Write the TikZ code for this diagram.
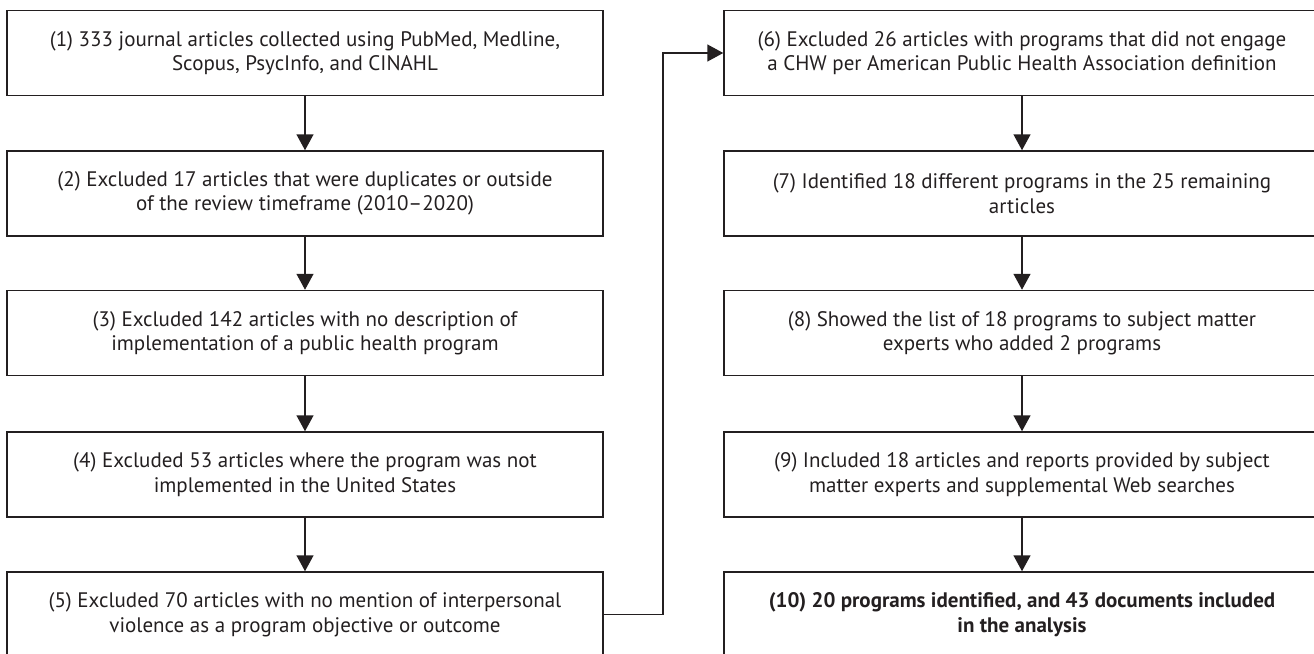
\documentclass[tikz,border=0pt]{standalone}
\usepackage{fontspec}
\setmainfont{PT Sans}
\usetikzlibrary{arrows.meta}
\definecolor{ink}{HTML}{231F20}
\tikzset{
  flowbox/.style={draw=ink, line width=1.5pt, minimum width=596pt, minimum height=85pt,
    inner sep=0pt, align=center, font=\fontsize{21}{24.5}\selectfont, text=ink},
  flowarrow/.style={draw=ink, line width=1.5pt, -{Triangle[length=16pt,width=17pt]}},
}
\begin{document}
\begin{tikzpicture}[x=1pt,y=-1pt]
\useasboundingbox (0,0) rectangle (1314,653);
\node[flowbox] (b1) at (305,53) {(1) 333 journal articles collected using PubMed, Medline,\\Scopus, PsycInfo, and CINAHL};
\node[flowbox] (b2) at (305,193.5) {(2) Excluded 17 articles that were duplicates or outside\\of the review timeframe (2010--2020)};
\node[flowbox] (b3) at (305,333) {(3) Excluded 142 articles with no description of\\implementation of a public health program};
\node[flowbox] (b4) at (305,474.5) {(4) Excluded 53 articles where the program was not\\implemented in the United States};
\node[flowbox] (b5) at (305,614.5) {(5) Excluded 70 articles with no mention of interpersonal\\violence as a program objective or outcome};
\node[flowbox] (b6) at (1022,53) {(6) Excluded 26 articles with programs that did not engage\\a CHW per American Public Health Association definition};
\node[flowbox] (b7) at (1022,193.5) {(7) Identified 18 different programs in the 25 remaining\\articles};
\node[flowbox] (b8) at (1022,333) {(8) Showed the list of 18 programs to subject matter\\experts who added 2 programs};
\node[flowbox] (b9) at (1022,474.5) {(9) Included 18 articles and reports provided by subject\\matter experts and supplemental Web searches};
\node[flowbox, font=\fontsize{21}{24.5}\selectfont\bfseries] (b10) at (1022,614.5) {(10) 20 programs identified, and 43 documents included\\in the analysis};
\draw[flowarrow] (b1) -- (b2);
\draw[flowarrow] (b2) -- (b3);
\draw[flowarrow] (b3) -- (b4);
\draw[flowarrow] (b4) -- (b5);
\draw[flowarrow] (b6) -- (b7);
\draw[flowarrow] (b7) -- (b8);
\draw[flowarrow] (b8) -- (b9);
\draw[flowarrow] (b9) -- (b10);
\coordinate (bend) at (663,0);
\draw[flowarrow] (b5.east) -| (bend |- b6.west) -- (b6.west);
\end{tikzpicture}
\end{document}
